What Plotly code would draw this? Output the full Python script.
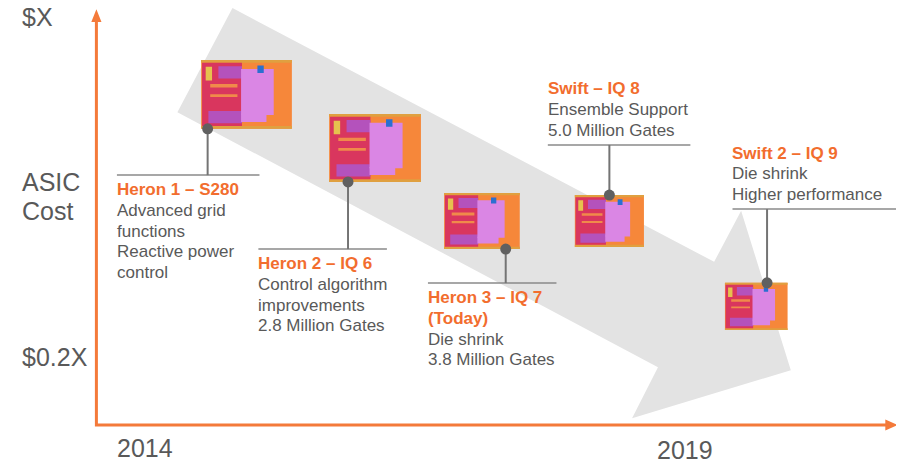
import plotly.graph_objects as go

ORANGE = '#F47A3A'
TITLE_ORANGE = '#F26D2E'
GREY_TEXT = '#595959'
FONT = 'Liberation Sans, Arial, sans-serif'

# x = year, y = relative ASIC cost ($X = 1.0), one chip per generation
chip_x = [2014.94, 2016.13, 2017.12, 2018.30, 2019.66]
chip_y = [0.818, 0.692, 0.520, 0.520, 0.319]
chip_w = [0.84, 0.85, 0.70, 0.64, 0.58]
chip_h = [0.162, 0.160, 0.132, 0.122, 0.111]

# callout for each chip: pin position, label rule and text
pin_x = [2014.58, 2015.88, 2017.34, 2018.30, 2019.76]
label_y = [0.628, 0.454, 0.374, 0.699, 0.548]
label_x0 = [2013.74, 2015.05, 2016.62, 2017.73, 2019.44]
label_x1 = [2015.06, 2016.24, 2017.81, 2019.05, 2020.98]
label_side = ['below', 'below', 'below', 'above', 'above']
titles = [['Heron 1 – S280'], ['Heron 2 – IQ 6'], ['Heron 3 – IQ 7', '(Today)'],
          ['Swift – IQ 8'], ['Swift 2 – IQ 9']]
notes = [
    ['Advanced grid', 'functions', 'Reactive power', 'control'],
    ['Control algorithm', 'improvements', '2.8 Million Gates'],
    ['Die shrink', '3.8 Million Gates'],
    ['Ensemble Support', '5.0 Million Gates'],
    ['Die shrink', 'Higher performance'],
]

# big grey cost-down arrow outline
arrow_x = [2014.81, 2019.27, 2019.52, 2019.98, 2018.51, 2018.75, 2014.30, 2014.81]
arrow_y = [1.021, 0.424, 0.544, 0.169, 0.056, 0.176, 0.776, 1.021]

# axis labels
cost_ticks = [1.0, 0.2]
cost_labels = ['$X', '$0.2X']
title_y = [0.612, 0.544]
title_lines = ['ASIC', 'Cost']
year_ticks = [2014, 2019]
year_label_y = [-0.014, -0.019]

# axis frame (origin and arrow tips)
axis_x0, axis_y0 = 2013.55, 0.04
axis_x1, axis_y1 = 2020.97, 1.018

fig = go.Figure()

fig.add_trace(go.Scatter(x=arrow_x, y=arrow_y, mode='lines', fill='toself',
                         fillcolor='#E3E3E3', line=dict(width=0), hoverinfo='skip'))

# chip die pictures drawn as a few coloured blocks (fractions of the chip box)
chip_parts = [
    (0.00, 1.00, 0.00, 1.00, '#F6873A'),
    (0.00, 1.00, 0.00, 0.04, '#E0A040'),
    (0.00, 1.00, 0.96, 1.00, '#E0A040'),
    (0.01, 0.45, 0.04, 0.96, '#D9365E'),
    (0.19, 0.45, 0.09, 0.27, '#B452BC'),
    (0.08, 0.45, 0.74, 0.92, '#B452BC'),
    (0.05, 0.12, 0.10, 0.30, '#E6C24E'),
    (0.10, 0.40, 0.35, 0.40, '#F08A4A'),
    (0.10, 0.40, 0.50, 0.54, '#F08A4A'),
    (0.44, 0.80, 0.13, 0.80, '#DA86E4'),
    (0.44, 0.72, 0.78, 0.90, '#DA86E4'),
    (0.62, 0.69, 0.08, 0.19, '#2B6FD0'),
]
for fx0, fx1, fy0, fy1, colour in chip_parts:
    xs, ys = [], []
    for cx, cy, w, h in zip(chip_x, chip_y, chip_w, chip_h):
        left = cx - w / 2 + fx0 * w
        right = cx - w / 2 + fx1 * w
        top = cy + h / 2 - fy0 * h
        bottom = cy + h / 2 - fy1 * h
        xs += [left, right, right, left, left, None]
        ys += [top, top, bottom, bottom, top, None]
    fig.add_trace(go.Scatter(x=xs, y=ys, mode='lines', fill='toself', fillcolor=colour,
                             line=dict(width=0), hoverinfo='skip'))

# label rules
rule_x, rule_y = [], []
for x0, x1, ly in zip(label_x0, label_x1, label_y):
    rule_x += [x0, x1, None]
    rule_y += [ly, ly, None]
fig.add_trace(go.Scatter(x=rule_x, y=rule_y, mode='lines',
                         line=dict(color='#8A8A8A', width=1.5), hoverinfo='skip'))

# pins from chip to rule
conn_x, conn_y, dot_x, dot_y = [], [], [], []
for px, cy, h, ly, side in zip(pin_x, chip_y, chip_h, label_y, label_side):
    dy = cy - h / 2 if side == 'below' else cy + h / 2
    conn_x += [px, px, None]
    conn_y += [dy, ly, None]
    dot_x.append(px)
    dot_y.append(dy)
fig.add_trace(go.Scatter(x=conn_x, y=conn_y, mode='lines',
                         line=dict(color='#747474', width=2), hoverinfo='skip'))
fig.add_trace(go.Scatter(x=dot_x, y=dot_y, mode='markers',
                         marker=dict(size=11, color='#606060'), hoverinfo='skip'))

# callout text
LINE = 0.0485
for x0, ly, side, head, body in zip(label_x0, label_y, label_side, titles, notes):
    lines = [(t, True) for t in head] + [(t, False) for t in body]
    if side == 'below':
        first = ly - 0.035
    else:
        first = ly + 0.035 + LINE * (len(lines) - 1)
    for k, (txt, is_head) in enumerate(lines):
        fig.add_annotation(x=x0 - 0.02, y=first - k * LINE,
                           text='<b>%s</b>' % txt if is_head else txt,
                           xanchor='left', yanchor='middle', showarrow=False,
                           font=dict(size=17, family=FONT,
                                     color=TITLE_ORANGE if is_head else GREY_TEXT))

# orange axes with arrow heads
fig.add_trace(go.Scatter(x=[axis_x0, axis_x0, axis_x1 - 0.08], y=[axis_y1 - 0.02, axis_y0, axis_y0],
                         mode='lines', line=dict(color=ORANGE, width=3), hoverinfo='skip'))
head_x = [axis_x0 - 0.047, axis_x0, axis_x0 + 0.047, axis_x0 - 0.047, None,
          axis_x1 - 0.115, axis_x1, axis_x1 - 0.115, axis_x1 - 0.115]
head_y = [axis_y1 - 0.03, axis_y1, axis_y1 - 0.03, axis_y1 - 0.03, None,
          axis_y0 + 0.013, axis_y0, axis_y0 - 0.013, axis_y0 + 0.013]
fig.add_trace(go.Scatter(x=head_x, y=head_y, mode='lines', fill='toself', fillcolor=ORANGE,
                         line=dict(width=0), hoverinfo='skip'))

# axis labels
for val, lab in zip(cost_ticks + title_y, cost_labels + title_lines):
    fig.add_annotation(x=2012.84, y=val, text=lab, xanchor='left', yanchor='middle',
                       showarrow=False, font=dict(size=25, family=FONT, color=GREY_TEXT))
for yr, yy in zip(year_ticks, year_label_y):
    fig.add_annotation(x=yr, y=yy, text=str(yr), xanchor='center', yanchor='middle',
                       showarrow=False, font=dict(size=25, family=FONT, color=GREY_TEXT))

# the page body keeps an 8px margin, so the figure covers the window minus that
fig.update_layout(
    width=896, height=453,
    margin=dict(l=0, r=0, t=0, b=0),
    showlegend=False,
    plot_bgcolor='white', paper_bgcolor='white',
    xaxis=dict(range=[2012.7315, 2021.028], visible=False, fixedrange=True),
    yaxis=dict(range=[-0.0447, 1.0212], visible=False, fixedrange=True),
)

fig.write_html('out.html')
